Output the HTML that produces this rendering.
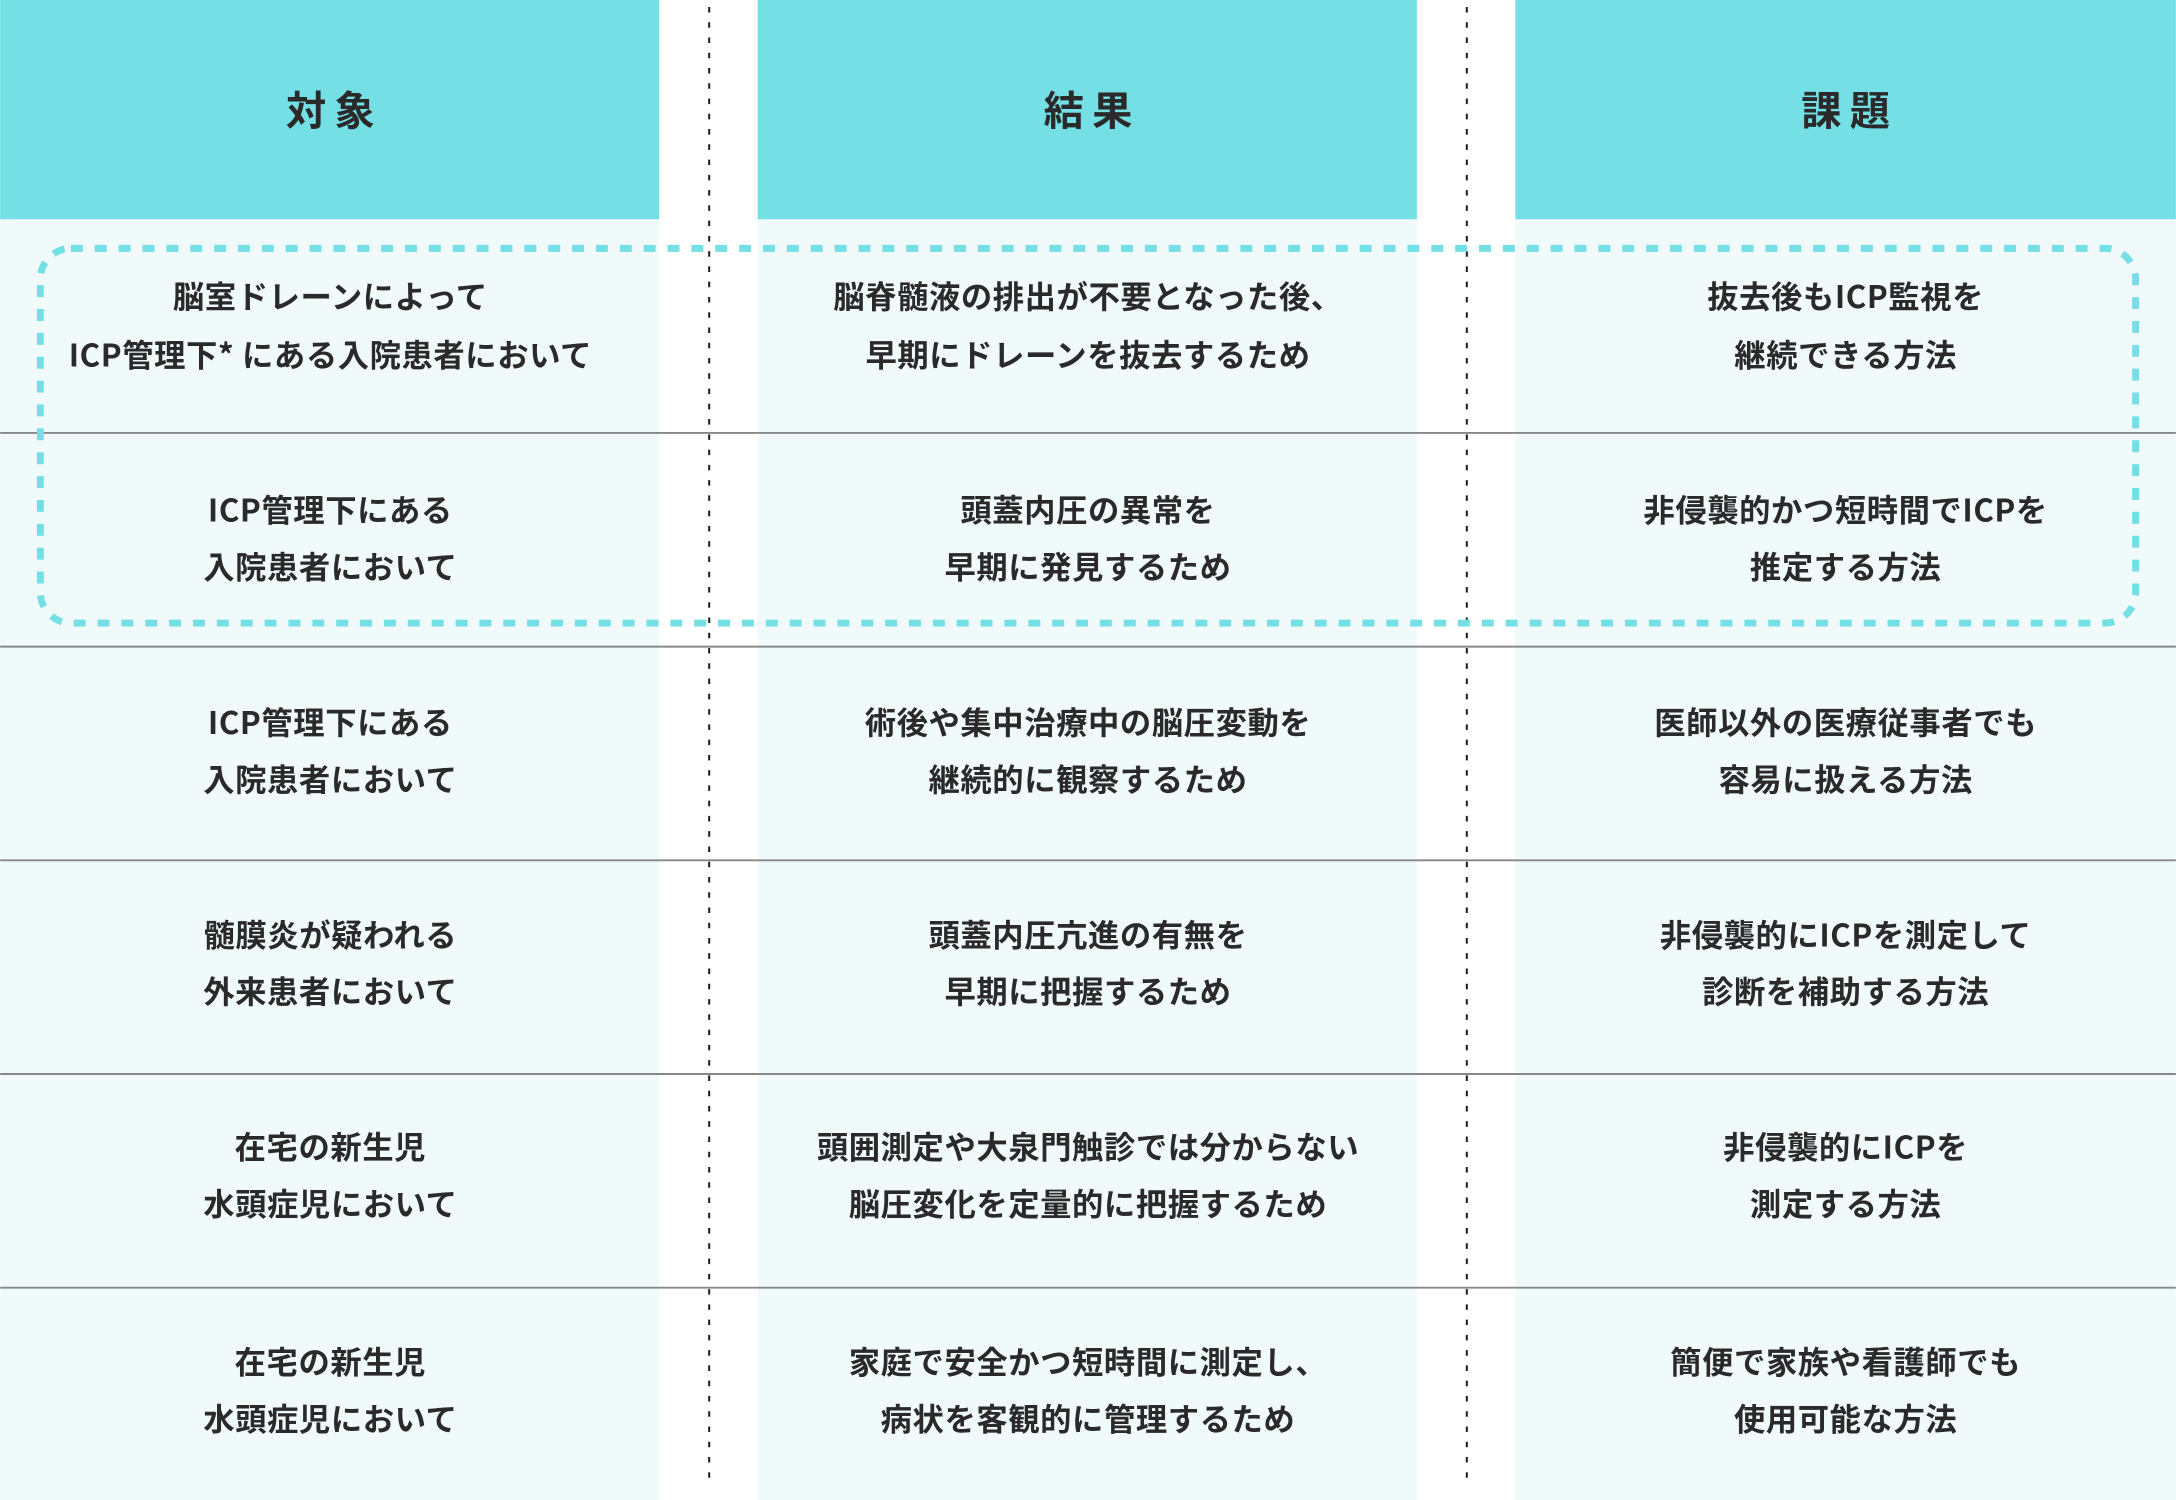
<!DOCTYPE html>
<html><head><meta charset="utf-8"><style>
html,body{margin:0;padding:0;background:#fff;}
svg{display:block}
text{font-family:"Noto Sans CJK JP","Liberation Sans",sans-serif;fill:#2a2a2a;text-anchor:middle;}
.h{font-size:29px;font-weight:bold;letter-spacing:6px;}
.b{font-size:22.6px;font-weight:bold;letter-spacing:0.4px;}
</style></head><body>
<svg width="2176" height="1500" viewBox="0 0 1568 1081" xmlns="http://www.w3.org/2000/svg">
<rect x="0" y="0" width="1568" height="1081" fill="#fff"/>
<g fill="#f0fafb">
<rect x="0" y="158" width="475" height="923"/>
<rect x="546" y="158" width="475" height="923"/>
<rect x="1092" y="158" width="476" height="923"/>
</g>
<g fill="#74dfe4">
<rect x="0" y="0" width="475" height="158"/>
<rect x="546" y="0" width="475" height="158"/>
<rect x="1092" y="0" width="476" height="158"/>
</g>
<g stroke="#222" stroke-width="1.5" stroke-dasharray="4,7">
<line x1="511" y1="5" x2="511" y2="1072"/>
<line x1="1057" y1="5" x2="1057" y2="1072"/>
</g>
<g stroke="#888" stroke-width="1.4">
<line x1="0" y1="312" x2="1568" y2="312"/>
<line x1="0" y1="466" x2="1568" y2="466"/>
<line x1="0" y1="620" x2="1568" y2="620"/>
<line x1="0" y1="774" x2="1568" y2="774"/>
<line x1="0" y1="928" x2="1568" y2="928"/>
</g>
<rect x="29" y="179" width="1510" height="270" rx="22" fill="none" stroke="#74dfe4" stroke-width="5" stroke-dasharray="8.6,8.6"/>
<text class="h" x="241" y="90">対象</text>
<text class="h" x="787" y="90">結果</text>
<text class="h" x="1333" y="90">課題</text>
<g class="b">
<text class="b" x="238" y="222">脳室ドレーンによって</text>
<text class="b" x="238" y="264">ICP管理下* にある入院患者において</text>
<text class="b" x="784" y="222">脳脊髄液の排出が不要となった後、</text>
<text class="b" x="784" y="264">早期にドレーンを抜去するため</text>
<text class="b" x="1330" y="222">抜去後もICP監視を</text>
<text class="b" x="1330" y="264">継続できる方法</text>

<text class="b" x="238" y="376">ICP管理下にある</text>
<text class="b" x="238" y="417">入院患者において</text>
<text class="b" x="784" y="376">頭蓋内圧の異常を</text>
<text class="b" x="784" y="417">早期に発見するため</text>
<text class="b" x="1330" y="376">非侵襲的かつ短時間でICPを</text>
<text class="b" x="1330" y="417">推定する方法</text>

<text class="b" x="238" y="529">ICP管理下にある</text>
<text class="b" x="238" y="570">入院患者において</text>
<text class="b" x="784" y="529">術後や集中治療中の脳圧変動を</text>
<text class="b" x="784" y="570">継続的に観察するため</text>
<text class="b" x="1330" y="529">医師以外の医療従事者でも</text>
<text class="b" x="1330" y="570">容易に扱える方法</text>

<text class="b" x="238" y="682">髄膜炎が疑われる</text>
<text class="b" x="238" y="723">外来患者において</text>
<text class="b" x="784" y="682">頭蓋内圧亢進の有無を</text>
<text class="b" x="784" y="723">早期に把握するため</text>
<text class="b" x="1330" y="682">非侵襲的にICPを測定して</text>
<text class="b" x="1330" y="723">診断を補助する方法</text>

<text class="b" x="238" y="835">在宅の新生児</text>
<text class="b" x="238" y="876">水頭症児において</text>
<text class="b" x="784" y="835">頭囲測定や大泉門触診では分からない</text>
<text class="b" x="784" y="876">脳圧変化を定量的に把握するため</text>
<text class="b" x="1330" y="835">非侵襲的にICPを</text>
<text class="b" x="1330" y="876">測定する方法</text>

<text class="b" x="238" y="990">在宅の新生児</text>
<text class="b" x="238" y="1031">水頭症児において</text>
<text class="b" x="784" y="990">家庭で安全かつ短時間に測定し、</text>
<text class="b" x="784" y="1031">病状を客観的に管理するため</text>
<text class="b" x="1330" y="990">簡便で家族や看護師でも</text>
<text class="b" x="1330" y="1031">使用可能な方法</text>
</g>
</svg>
</body></html>
